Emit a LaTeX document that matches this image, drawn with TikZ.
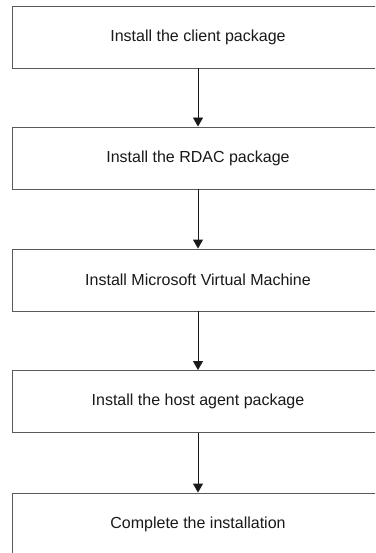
\documentclass[tikz,border=0pt]{standalone}
\usepackage{fontspec}
\setmainfont{Liberation Sans}
\usetikzlibrary{arrows.meta}
\tikzset{
  stepbox/.style={draw=black!65, line width=0.9pt, rectangle, minimum width=372pt, minimum height=62pt, inner sep=0pt, font=\fontsize{16pt}{18pt}\selectfont, text=black!90},
  flow/.style={draw=black!90, line width=0.9pt, -{Triangle[width=10pt,length=9pt]}}
}
\begin{document}
\begin{tikzpicture}[x=1pt,y=-1pt]
\useasboundingbox (0,0) rectangle (375,553);
\clip (0,0) rectangle (375,553);
\fill[white] (0,0) rectangle (375,553);
\node[stepbox] (s1) at (198,37) {Install the client package};
\node[stepbox] (s2) at (198,158) {Install the RDAC package};
\node[stepbox] (s3) at (198,280) {Install Microsoft Virtual Machine};
\node[stepbox] (s4) at (198,401.5) {Install the host agent package};
\node[stepbox] (s5) at (198,524) {Complete the installation};
\draw[flow] (s1) -- (s2);
\draw[flow] (s2) -- (s3);
\draw[flow] (s3) -- (s4);
\draw[flow] (s4) -- (s5);
\end{tikzpicture}
\end{document}
